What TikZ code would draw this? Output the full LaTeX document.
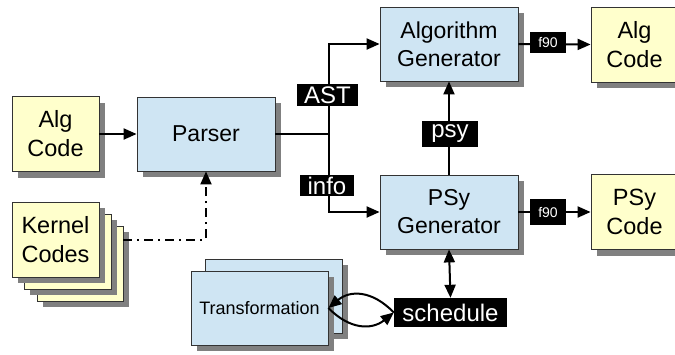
\documentclass[tikz,border=0pt]{standalone}
\usepackage{fontspec}
\setmainfont{Liberation Sans}
\usetikzlibrary{arrows.meta,shadows}
\definecolor{boxyellow}{HTML}{FFFFCC}
\definecolor{boxblue}{HTML}{CFE5F3}
\definecolor{boxborder}{HTML}{333333}
\definecolor{shadowgray}{HTML}{808080}
\tikzset{
  base/.style={draw=boxborder, line width=0.8pt, inner sep=0pt, align=center,
    drop shadow={shadow xshift=6pt, shadow yshift=-6pt, fill=shadowgray, opacity=1}},
  ybox/.style={base, fill=boxyellow, minimum width=87pt, minimum height=75pt,
    font=\fontsize{23.5}{29}\selectfont},
  bbox/.style={base, fill=boxblue, minimum width=138pt, minimum height=74pt,
    font=\fontsize{23}{28}\selectfont},
  tbox/.style={base, fill=boxblue, minimum width=137pt, minimum height=74pt,
    font=\fontsize{18}{22}\selectfont},
  lab/.style={fill=black, text=white, inner sep=0pt, font=\fontsize{24}{26}\selectfont},
  smalllab/.style={fill=black, text=white, inner sep=0pt, minimum width=36pt, font=\fontsize{14}{15}\selectfont},
  conn/.style={line width=2pt, draw=black},
  arr/.style={conn, -{Triangle[length=13pt,width=11pt]}},
  darr/.style={conn, {Triangle[length=13pt,width=11pt]}-{Triangle[length=13pt,width=11pt]}},
  dashdot/.style={conn, dash pattern=on 9pt off 5pt on 2pt off 5pt}
}
\begin{document}
\begin{tikzpicture}[x=1pt,y=-1pt]
\useasboundingbox (0,0) rectangle (675,354);
% left inputs
\node[ybox] (algin) at (55.5,134) {Alg\\Code};
\node[ybox, minimum width=86pt] (k3) at (80,263.5) {};
\node[ybox] (k2) at (67.5,251.5) {};
\node[ybox] (kernel) at (55.5,239.5) {Kernel\\Codes};
% parser
\node[bbox] (parser) at (206,134) {Parser};
% generators
\node[bbox] (alggen) at (449,44) {Algorithm\\Generator};
\node[bbox] (psygen) at (449,212) {PSy\\Generator};
% outputs
\node[ybox] (algout) at (634.5,44.5) {Alg\\Code};
\node[ybox] (psyout) at (634.5,212) {PSy\\Code};
% transformation
\node[tbox] (trback) at (273.5,296) {};
\node[tbox] (trans) at (259.5,308) {Transformation};
% junction
\coordinate (junc) at (329,134);
% connectors
\draw[arr] (algin.east) -- (parser.west);
\draw[conn] (parser.east) -- (junc);
\draw[arr] (junc) |- (alggen.west);
\draw[arr] (junc) |- (psygen.west);
\draw[dashdot, -{Triangle[length=13pt,width=11pt]}] (k3.east |- kernel.center) -| (parser.south);
\draw[arr] (psygen.north) -- (alggen.south);
\draw[arr] (alggen.east) -- (algout.west);
\draw[arr] (psygen.east) -- (psyout.west);
% labels
\node[lab, minimum width=61pt, minimum height=22pt] (ast) at (327.5,95) {AST};
\node[lab, minimum width=54pt, minimum height=21pt] (info) at (327,185.5) {info};
\node[lab, minimum width=56pt, minimum height=26pt] (psy) at (450,134) {psy};
\node[smalllab, minimum height=21pt] (f1) at (548,42.5) {f90};
\node[smalllab, minimum height=26pt] (f2) at (548,212) {f90};
\node[lab, minimum width=113pt, minimum height=29pt] (sched) at (450.5,312.5) {schedule};
\draw[darr] (psygen.south) -- (sched.north);
\draw[arr] (sched.west) .. controls (372,290) and (350,290) .. (trans.east);
\draw[arr] (trans.east) .. controls (350,330) and (372,330) .. (sched.west);
\end{tikzpicture}
\end{document}
